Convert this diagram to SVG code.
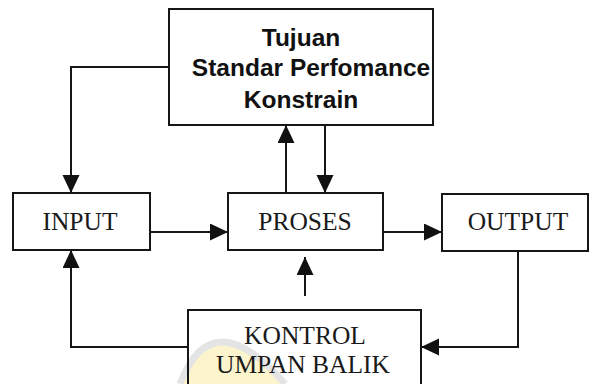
<svg xmlns="http://www.w3.org/2000/svg" width="589" height="384" viewBox="0 0 589 384">
<style>
.box{fill:none;stroke:#161616;stroke-width:2}
.ln{fill:none;stroke:#161616;stroke-width:2}
.sans{font-family:"Liberation Sans",Arial,sans-serif;font-weight:bold;font-size:24.5px;fill:#111;text-anchor:middle}
.serif{font-family:"Liberation Serif","Times New Roman",serif;font-size:25.5px;fill:#1a1a1a;text-anchor:middle}
</style>
<defs>
<marker id="ah" markerUnits="userSpaceOnUse" markerWidth="19" markerHeight="19" refX="18" refY="8.5" orient="auto">
<path d="M0,0 L18,8.5 L0,17 z" fill="#111"/>
</marker>
</defs>
<rect width="589" height="384" fill="#fff"/>
<g id="watermark">
<path d="M180,384 Q212,300 285,384 Z" fill="#fbf4cc" stroke="none"/>
<path d="M180,384 Q212,300 285,384" fill="none" stroke="#e4e4e4" stroke-width="7"/>
</g>
<g id="tujuan">
<rect class="box" x="169" y="9" width="264" height="116"/>
<text class="sans" x="301" y="46">Tujuan</text>
<text class="sans" x="311" y="76">Standar Perfomance</text>
<text class="sans" x="301" y="108">Konstrain</text>
</g>
<g id="input">
<rect class="box" x="13" y="193" width="137" height="57"/>
<text class="serif" x="80" y="230">INPUT</text>
</g>
<g id="proses">
<rect class="box" x="228" y="193" width="155" height="57"/>
<text class="serif" x="305" y="230">PROSES</text>
</g>
<g id="output">
<rect class="box" x="442" y="194" width="146" height="57"/>
<text class="serif" x="518" y="230">OUTPUT</text>
</g>
<g id="kontrol">
<rect class="box" x="188" y="310" width="233" height="100"/>
<text class="serif" x="305" y="344">KONTROL</text>
<text class="serif" x="303" y="373">UMPAN BALIK</text>
</g>
<g id="connectors">
<path class="ln" d="M169,67 H71 V193" marker-end="url(#ah)"/>
<path class="ln" d="M286,193 V125" marker-end="url(#ah)"/>
<path class="ln" d="M325,125 V193" marker-end="url(#ah)"/>
<path class="ln" d="M150,232 H228" marker-end="url(#ah)"/>
<path class="ln" d="M383,232 H442" marker-end="url(#ah)"/>
<path class="ln" d="M305,296 V257" marker-end="url(#ah)"/>
<path class="ln" d="M518,251 V347 H421" marker-end="url(#ah)"/>
<path class="ln" d="M188,347 H71 V250" marker-end="url(#ah)"/>
</g>
</svg>
